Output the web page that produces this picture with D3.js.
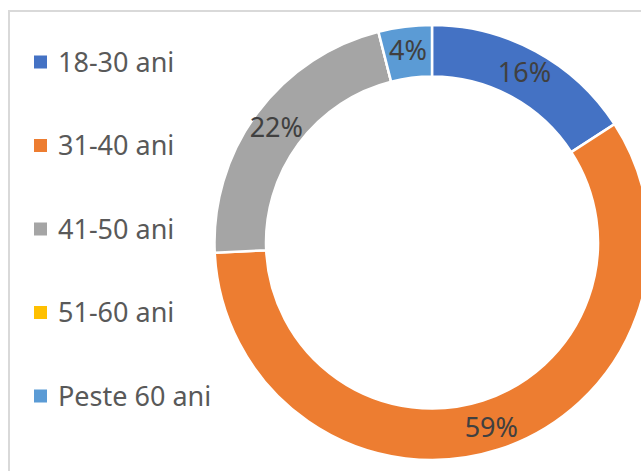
<!DOCTYPE html>
<html>
<head>
<meta charset="utf-8">
<script src="https://cdn.jsdelivr.net/npm/d3@7"></script>
<style>
  html, body { margin: 0; padding: 0; background: #ffffff; }
  svg { display: block; }
</style>
</head>
<body>
<svg id="chart" width="641" height="471"></svg>
<script>
// Age groups and their shares (%)
const categories = ["18-30 ani", "31-40 ani", "41-50 ani", "51-60 ani", "Peste 60 ani"];
const values = [16, 59, 22, 0, 4];
const labels = ["16%", "59%", "22%", "", "4%"];
const colors = ["#4472C4", "#ED7D31", "#A5A5A5", "#FFC000", "#5B9BD5"];

const svg = d3.select("#chart");
const W = 641, H = 471;
const font = "'Noto Sans', 'Open Sans', sans-serif";

// chart area frame (runs off the right and bottom edge)
svg.append("rect")
  .attr("x", 9).attr("y", 11)
  .attr("width", W + 20).attr("height", H + 20)
  .attr("fill", "#ffffff")
  .attr("stroke", "#d9d9d9")
  .attr("stroke-width", 2);

// donut
const cx = 432, cy = 242.5, rOuter = 217.5, rInner = 166;
const data = categories.map((c, i) => ({ cat: c, value: values[i], label: labels[i], color: colors[i] }));

const pie = d3.pie().sort(null).value(d => d.value);
const arc = d3.arc().innerRadius(rInner).outerRadius(rOuter);
const labelArc = d3.arc().innerRadius((rInner + rOuter) / 2 + 2).outerRadius((rInner + rOuter) / 2 + 2);

const g = svg.append("g").attr("transform", `translate(${cx},${cy})`);
const arcs = pie(data);

g.selectAll("path.slice")
  .data(arcs)
  .join("path")
  .attr("class", "slice")
  .attr("d", arc)
  .attr("fill", d => d.data.color)
  .attr("stroke", "#ffffff")
  .attr("stroke-width", 2.5)
  .attr("stroke-linejoin", "miter");

g.selectAll("text.value")
  .data(arcs.filter(d => d.data.value > 0))
  .join("text")
  .attr("class", "value")
  .attr("transform", d => `translate(${labelArc.centroid(d)})`)
  .attr("text-anchor", "middle")
  .attr("dy", "0.36em")
  .attr("font-family", font)
  .attr("font-size", 27)
  .attr("fill", "#404040")
  .text(d => d.data.label);

// legend
const legendY = d3.scalePoint().domain(categories).range([62, 396]);
const legend = svg.append("g");
const items = legend.selectAll("g.item")
  .data(data)
  .join("g")
  .attr("class", "item")
  .attr("transform", d => `translate(34,${legendY(d.cat)})`);

items.append("rect")
  .attr("x", 0).attr("y", -6.5)
  .attr("width", 13).attr("height", 13)
  .attr("fill", d => d.color);

items.append("text")
  .attr("x", 24)
  .attr("dy", "0.36em")
  .attr("font-family", font)
  .attr("font-size", 27)
  .attr("fill", "#595959")
  .text(d => d.cat);
</script>
</body>
</html>
